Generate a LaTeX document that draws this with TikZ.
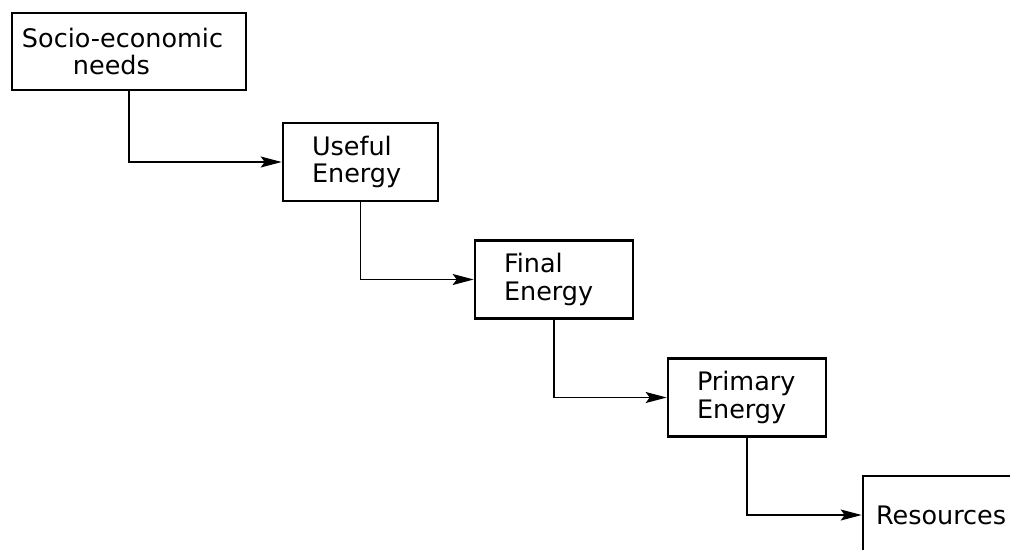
\documentclass[tikz,border=0pt]{standalone}
\usepackage{fontspec}
\setmainfont{DejaVu Sans}
\usetikzlibrary{arrows.meta}

\begin{document}
\begin{tikzpicture}[x=0.2mm,y=-0.2mm,
  box/.style={draw,line width=1.5pt,minimum height=15.6mm,align=left,font=\fontsize{14.5}{15.6}\selectfont},
  link/.style={line width=0.8pt,-{Stealth[length=4.2mm,width=2.2mm,inset=0.8mm]}}]
  \clip (0,0) rectangle (1010,549);
  \node[box,minimum height=15.4mm,text width=42.8mm,inner xsep=2mm] (needs) at (129,51.5) {Socio-economic\\\hspace*{10.2mm}needs};
  \node[box,text width=19.4mm,inner xsep=5.8mm] (useful) at (360.5,162) {Useful\\Energy};
  \node[box,text width=20mm,inner xsep=5.8mm] (final) at (554,279.5) {Final\\Energy};
  \node[box,text width=20mm,inner xsep=5.8mm] (primary) at (747,397.5) {Primary\\Energy};
  \node[box,text width=26.8mm,inner xsep=2.6mm] (resources) at (943,515) {Resources};
  \draw[link] (needs) |- (useful);
  \draw[link] (useful) |- (final);
  \draw[link] (final) |- (primary);
  \draw[link] (primary) |- (resources);
\end{tikzpicture}
\end{document}
